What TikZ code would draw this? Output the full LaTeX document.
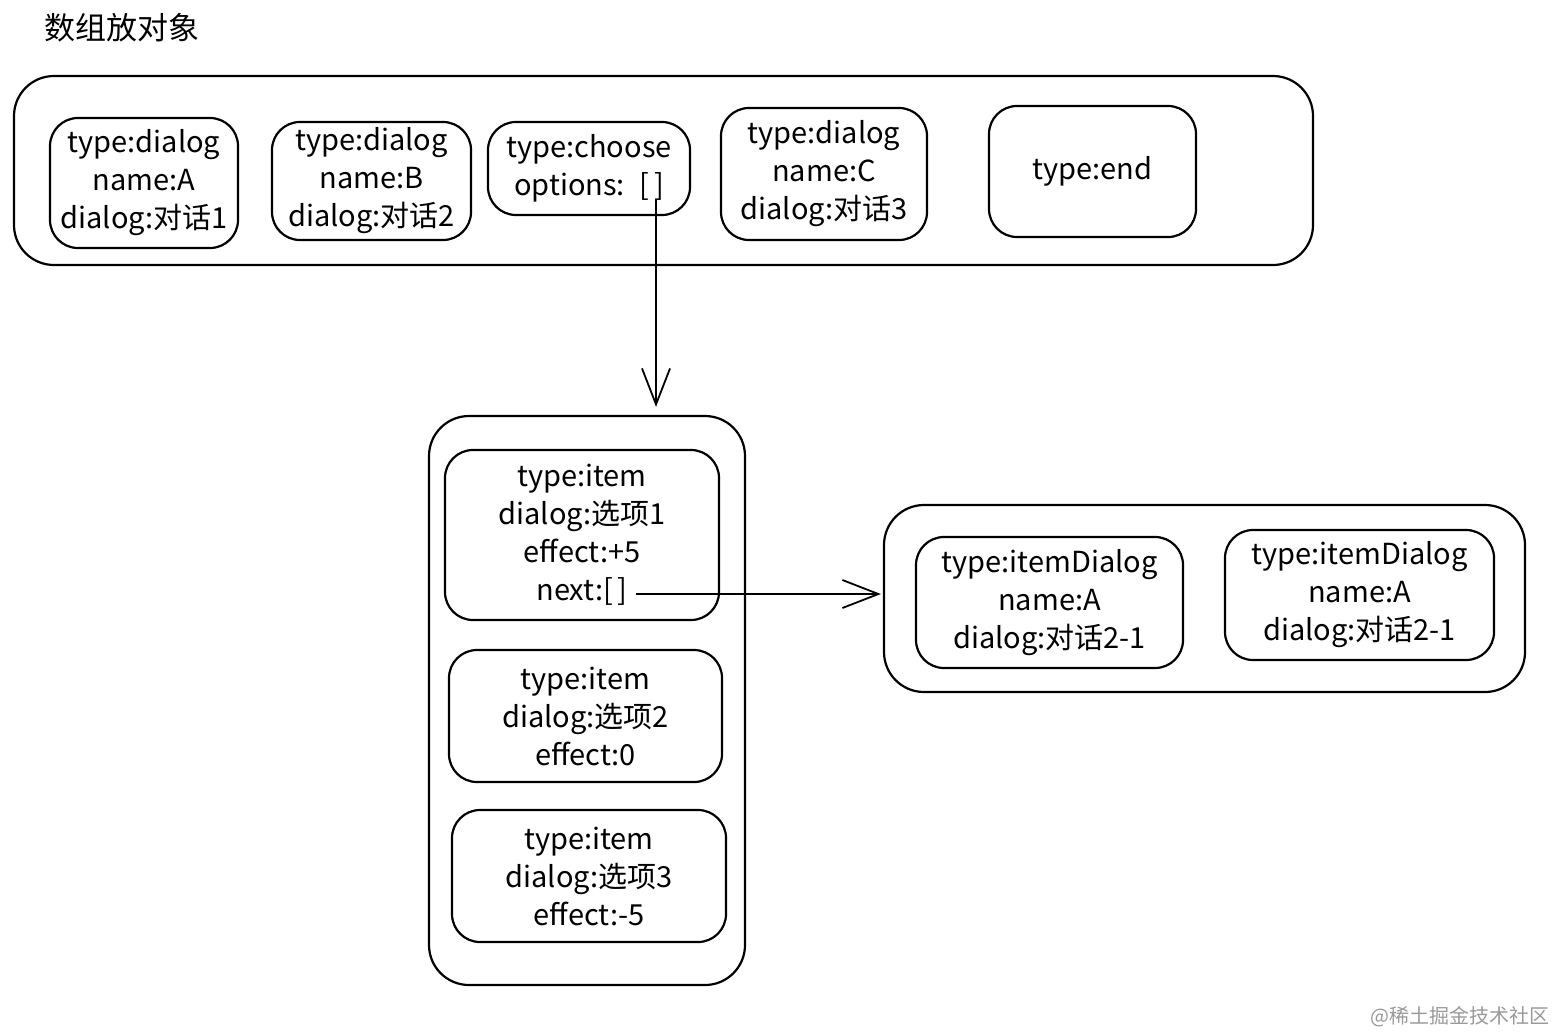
\documentclass[tikz,border=0pt]{standalone}
\usepackage{fontspec}
\setmainfont{Noto Sans CJK SC}
\usetikzlibrary{arrows.meta}

\begin{document}
\begin{tikzpicture}[
        x=0.5pt, y=-0.5pt, % один пиксель эскиза
        group/.style = {draw, line width=1.1pt, rounded corners=20pt, inner sep=0pt},
        cell/.style = {draw, line width=1.1pt, rounded corners=14pt, align=center, inner sep=0pt,
                font=\fontsize{14.5}{19}\selectfont}, % Стиль блоков
        link/.style = {draw, line width=0.9pt, -{Straight Barb[length=18pt, width=14pt, line width=0.9pt]}},
    ]
    \useasboundingbox (0,0) rectangle (1556,1033);

    \node[anchor=west, inner sep=0pt, font=\fontsize{15.5}{19}\selectfont] (title) at (44,28) {数组放对象};

    % массив объектов
    \node[group, minimum width=649.5pt, minimum height=94.5pt] (list) at (663.5,170.5) {};
    \node[cell, minimum width=94pt, minimum height=65pt] (dlgA) at (144,183) {type:dialog\\name:A\\dialog:对话1};
    \node[cell, minimum width=99.5pt, minimum height=59pt] (dlgB) at (371.5,181) {type:dialog\\name:B\\dialog:对话2};
    \node[cell, minimum width=101pt, minimum height=46.5pt] (choose) at (589,168.5) {type:choose\\options:\enspace[\,]};
    \node[cell, minimum width=103pt, minimum height=66pt] (dlgC) at (824,174) {type:dialog\\name:C\\dialog:对话3};
    \node[cell, minimum width=103.5pt, minimum height=65.5pt] (end) at (1092.5,171.5) {type:end};

    % варианты
    \node[group, minimum width=158pt, minimum height=284.5pt] (options) at (587,700.5) {};
    \node[cell, minimum width=137pt, minimum height=85pt] (item1) at (582,535) {type:item\\dialog:选项1\\effect:+5\\next:[\,]};
    \node[cell, minimum width=136.5pt, minimum height=66pt] (item2) at (585.5,716) {type:item\\dialog:选项2\\effect:0};
    \node[cell, minimum width=137pt, minimum height=66pt] (item3) at (589,876) {type:item\\dialog:选项3\\effect:-5};

    % следующие реплики
    \node[group, minimum width=320.5pt, minimum height=93.5pt] (next) at (1204.5,598.5) {};
    \node[cell, minimum width=133.5pt, minimum height=65.5pt] (itemDlg1) at (1049.5,602.5) {type:itemDialog\\name:A\\dialog:对话2-1};
    \node[cell, minimum width=134.5pt, minimum height=65pt] (itemDlg2) at (1359.5,595) {type:itemDialog\\name:A\\dialog:对话2-1};

    \coordinate (optsOut) at (656,200);
    \coordinate (nextOut) at (636,594);
    \draw[link, shorten >=4pt] (optsOut) -- (optsOut |- options.north);
    \draw[link, shorten >=1pt] (nextOut) -- (nextOut -| next.west);

    \node[anchor=east, inner sep=0pt, text=black!40, font=\fontsize{10}{12}\selectfont] (mark) at (1550,1017) {@稀土掘金技术社区};
\end{tikzpicture}
\end{document}
